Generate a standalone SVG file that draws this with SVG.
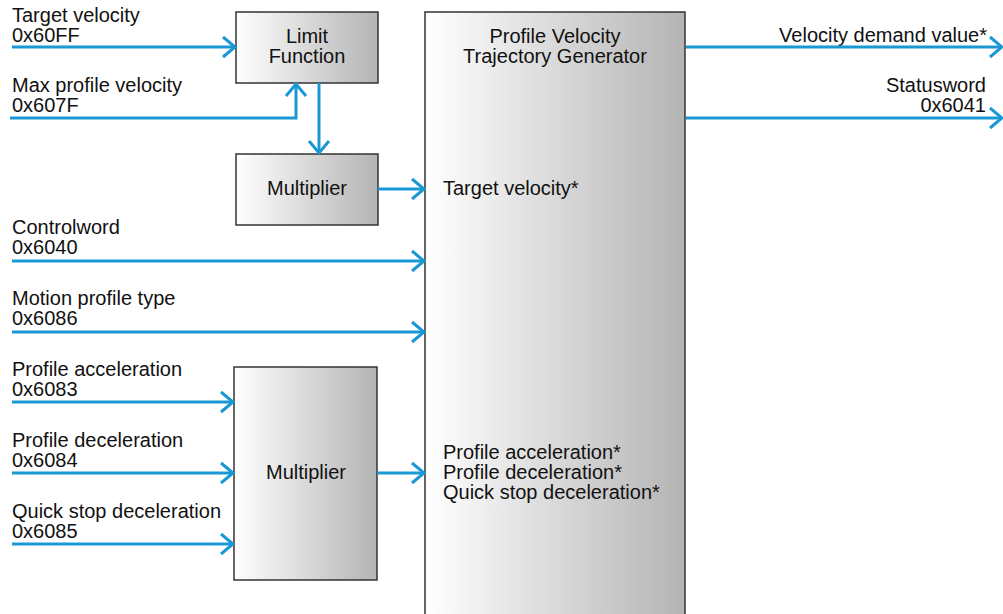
<svg xmlns="http://www.w3.org/2000/svg" width="1003" height="614" viewBox="0 0 1003 614">
<defs>
<linearGradient id="g" x1="0" y1="0" x2="1" y2="0">
<stop offset="0" stop-color="#ffffff"/>
<stop offset="1" stop-color="#b4b4b4"/>
</linearGradient>
<marker id="ah" markerUnits="userSpaceOnUse" markerWidth="30" markerHeight="30" viewBox="-15 -15 30 30" refX="0" refY="0" orient="auto" overflow="visible">
<path d="M-12,-10 L0,0 L-12,10" fill="none" stroke="#1a98d4" stroke-width="3"/>
</marker>
</defs>
<style>
text{font-family:"Liberation Sans",Arial,sans-serif;font-size:20px;fill:#111}
.box{fill:url(#g);stroke:#333;stroke-width:1.5}
.c{text-anchor:middle}
.r{text-anchor:end}
.w{fill:none;stroke:#1a98d4;stroke-width:3;marker-end:url(#ah)}
</style>
<g id="trajectory">
<rect class="box" x="425" y="12" width="260" height="610"/>
<text class="c" x="555" y="43">Profile Velocity</text>
<text class="c" x="555" y="63">Trajectory Generator</text>
<text x="443" y="195">Target velocity*</text>
<text x="443" y="459">Profile acceleration*</text>
<text x="443" y="479">Profile deceleration*</text>
<text x="443" y="499">Quick stop deceleration*</text>
</g>
<g id="limit">
<rect class="box" x="236" y="12" width="142" height="71"/>
<text class="c" x="307" y="43">Limit</text>
<text class="c" x="307" y="63">Function</text>
</g>
<g id="mult1">
<rect class="box" x="236" y="154" width="142" height="71"/>
<text class="c" x="307" y="195">Multiplier</text>
</g>
<g id="mult2">
<rect class="box" x="234" y="367" width="143" height="213"/>
<text class="c" x="306" y="479">Multiplier</text>
</g>
<g id="labels">
<text x="12" y="22">Target velocity</text>
<text x="12" y="42">0x60FF</text>
<text x="12" y="92">Max profile velocity</text>
<text x="12" y="112">0x607F</text>
<text x="12" y="234">Controlword</text>
<text x="12" y="254">0x6040</text>
<text x="12" y="305">Motion profile type</text>
<text x="12" y="325">0x6086</text>
<text x="12" y="376">Profile acceleration</text>
<text x="12" y="396">0x6083</text>
<text x="12" y="447">Profile deceleration</text>
<text x="12" y="467">0x6084</text>
<text x="12" y="518">Quick stop deceleration</text>
<text x="12" y="538">0x6085</text>
<text class="r" x="987" y="42">Velocity demand value*</text>
<text class="r" x="986" y="92">Statusword</text>
<text class="r" x="986" y="112">0x6041</text>
</g>
<g id="connectors">
<path class="w" d="M12,47 H235"/>
<path class="w" d="M10,118 H296 V84"/>
<path class="w" d="M319,83 V153"/>
<path class="w" d="M378,189 H424"/>
<path class="w" d="M12,261 H424"/>
<path class="w" d="M12,332 H424"/>
<path class="w" d="M12,402 H233"/>
<path class="w" d="M12,473 H233"/>
<path class="w" d="M12,544 H233"/>
<path class="w" d="M377,473 H424"/>
<path class="w" d="M686,47 H1002"/>
<path class="w" d="M686,118 H1002"/>
</g>
</svg>
